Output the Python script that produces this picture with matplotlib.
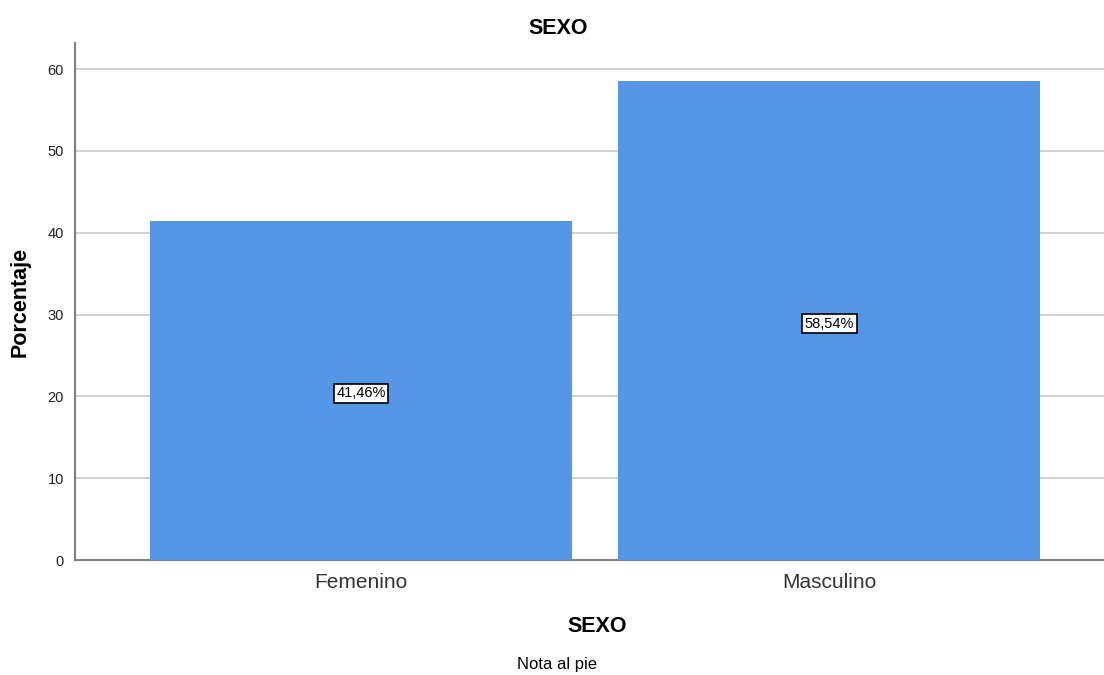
import matplotlib
matplotlib.use("Agg")
import matplotlib.pyplot as plt
from matplotlib.transforms import offset_copy

categories = ["Femenino", "Masculino"]
values = [41.46, 58.54]
labels = ["41,46%", "58,54%"]
yticks = [0, 10, 20, 30, 40, 50, 60]

plt.rcParams['font.family'] = ['Liberation Sans', 'DejaVu Sans']

fig = plt.figure(figsize=(11.04, 6.75), dpi=100)
ax = fig.add_axes([75/1104, 1-560/675, 1-75/1104, (560-43)/675])

x = list(range(len(categories)))
ax.bar(x, values, width=0.902, color="#5596E6", zorder=3)
tr = offset_copy(ax.transData, fig=fig, x=0, y=-2.2, units="points")
for xi, v, lab in zip(x, values, labels):
    ax.text(xi, v/2, lab, ha="center", va="center", fontsize=10.5, zorder=4,
            transform=tr,
            bbox=dict(boxstyle="square,pad=0.18", facecolor="white", edgecolor="black", linewidth=1.2))

ax.set_xlim(-0.611, 1.587)
ax.set_ylim(0, 63.2)
ax.set_yticks(yticks)
ax.set_xticks(x)
ax.set_xticklabels(categories, fontsize=15, color="#333333")
ax.tick_params(axis="y", labelsize=10.5, length=0, pad=8, labelcolor="#222222")
ax.tick_params(axis="x", length=0, pad=9)
ax.yaxis.grid(True, color="#C8C8C8", linewidth=1.2, zorder=0)
ax.set_axisbelow(True)
for s in ["top", "right"]:
    ax.spines[s].set_visible(False)
for s in ["left", "bottom"]:
    ax.spines[s].set_color("#808080")
    ax.spines[s].set_linewidth(1.5)

ax.set_ylabel("Porcentaje", fontsize=15.5, fontweight="bold")
ax.yaxis.set_label_coords(-55/1029, 0.5)
ax.set_xlabel("SEXO", fontsize=15.5, fontweight="bold")
ax.xaxis.set_label_coords((597-75)/1029, -(626-560)/517)
ax.xaxis.label.set_va("center")
ax.yaxis.label.set_va("center")
fig.text(558/1104, 1-28/675, "SEXO", ha="center", va="center", fontsize=15.5, fontweight="bold")
fig.text(557/1104, 1-665/675, "Nota al pie", ha="center", va="center", fontsize=12)

fig.savefig("out.png", dpi=100)
